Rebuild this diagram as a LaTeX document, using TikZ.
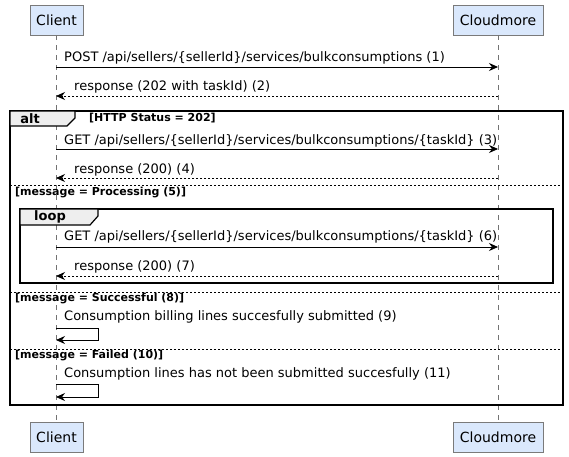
\documentclass[tikz,border=0pt]{standalone}
\usepackage{fontspec}
\setmainfont{DejaVu Sans}
\usetikzlibrary{arrows.meta,positioning}
\definecolor{actorfill}{HTML}{DAE8FC}
\definecolor{actorline}{HTML}{7A7A7A}
\definecolor{tabfill}{HTML}{EEEEEE}

\begin{document}
\begin{tikzpicture}[x=1pt,y=-1pt,>={Stealth[length=9pt,width=8pt,inset=3pt]},
  actor/.style={draw=actorline,fill=actorfill,line width=0.8pt,minimum height=30pt,
    inner sep=0pt,font=\fontsize{14}{16}\selectfont},
  msg/.style={anchor=west,inner sep=0pt,font=\fontsize{13}{15}\selectfont},
  guard/.style={anchor=west,inner sep=0pt,font=\bfseries\fontsize{11}{13}\selectfont},
  tabtext/.style={inner sep=0pt,font=\bfseries\fontsize{13}{15}\selectfont},
  lifeline/.style={draw=black!55,line width=0.6pt,dash pattern=on 5pt off 5pt},
  call/.style={->,line width=0.8pt},
  reply/.style={->,line width=0.8pt,dash pattern=on 2pt off 2pt},
  frame/.style={line width=1.5pt},
  tab/.style={draw=black,fill=tabfill,line width=1.2pt},
  sep/.style={line width=0.6pt,dash pattern=on 2pt off 2pt}]

  \useasboundingbox (0,0) rectangle (569,456);

  % participants
  \node[actor,minimum width=53pt] (client) at (56.5,20) {Client};
  \node[actor,minimum width=90pt] (cloud) at (498,20) {Cloudmore};
  \node[actor,minimum width=53pt] (clientb) at (56.5,437) {Client};
  \node[actor,minimum width=90pt] (cloudb) at (498,437) {Cloudmore};

  \draw[lifeline] (client) -- (clientb);
  \draw[lifeline] (cloud) -- (cloudb);

  % alt frame
  \draw[frame] (10,111) rectangle (563,405);
  \filldraw[tab] (10,111) -- (75,111) -- (75,118) -- (67,126) -- (10,126) -- cycle;
  \node[tabtext] (alt) at (30,118.5) {alt};
  \node[guard] (g1) at (89,118.5) {[HTTP Status = 202]};

  \draw[sep] (10,185) -- (563,185);
  \node[guard] (g2) at (15,193) {[message = Processing (5)]};
  \draw[sep] (10,292) -- (563,292);
  \node[guard] (g3) at (15,298) {[message = Successful (8)]};
  \draw[sep] (10,349) -- (563,349);
  \node[guard] (g4) at (15,355) {[message = Failed (10)]};

  % loop frame
  \draw[frame] (20,209) rectangle (553,283);
  \filldraw[tab] (20,209) -- (98,209) -- (98,216) -- (90,225) -- (20,225) -- cycle;
  \node[tabtext] (loop) at (50,217) {loop};

  % messages
  \coordinate (c1) at (56,67);  \coordinate (m1) at (498,67);
  \coordinate (c2) at (56,96);  \coordinate (m2) at (498,96);
  \coordinate (c3) at (56,149); \coordinate (m3) at (498,149);
  \coordinate (c4) at (56,178); \coordinate (m4) at (498,178);
  \coordinate (c6) at (56,247); \coordinate (m6) at (498,247);
  \coordinate (c7) at (56,276); \coordinate (m7) at (498,276);
  \coordinate (s9a) at (56,328);  \coordinate (s9b) at (98,328);
  \coordinate (s9c) at (98,340);  \coordinate (s9d) at (56,340);
  \coordinate (s11a) at (56,384); \coordinate (s11b) at (98,384);
  \coordinate (s11c) at (98,397); \coordinate (s11d) at (56,397);

  \node[msg] (l1) at (64,58) {POST /api/sellers/\{sellerId\}/services/bulkconsumptions (1)};
  \node[msg] (l2) at (74,87) {response (202 with taskId) (2)};
  \node[msg] (l3) at (64,141) {GET /api/sellers/\{sellerId\}/services/bulkconsumptions/\{taskId\} (3)};
  \node[msg] (l4) at (74,170) {response (200) (4)};
  \node[msg] (l6) at (64,237) {GET /api/sellers/\{sellerId\}/services/bulkconsumptions/\{taskId\} (6)};
  \node[msg] (l7) at (74,267) {response (200) (7)};
  \node[msg] (l9) at (64,317) {Consumption billing lines succesfully submitted (9)};
  \node[msg] (l11) at (64,374) {Consumption lines has not been submitted succesfully (11)};

  \draw[call] (c1) -- (m1);
  \draw[reply] (m2) -- (c2);
  \draw[call] (c3) -- (m3);
  \draw[reply] (m4) -- (c4);
  \draw[call] (c6) -- (m6);
  \draw[reply] (m7) -- (c7);
  \draw[call] (s9a) -- (s9b) -- (s9c) -- (s9d);
  \draw[call] (s11a) -- (s11b) -- (s11c) -- (s11d);

\end{tikzpicture}
\end{document}
